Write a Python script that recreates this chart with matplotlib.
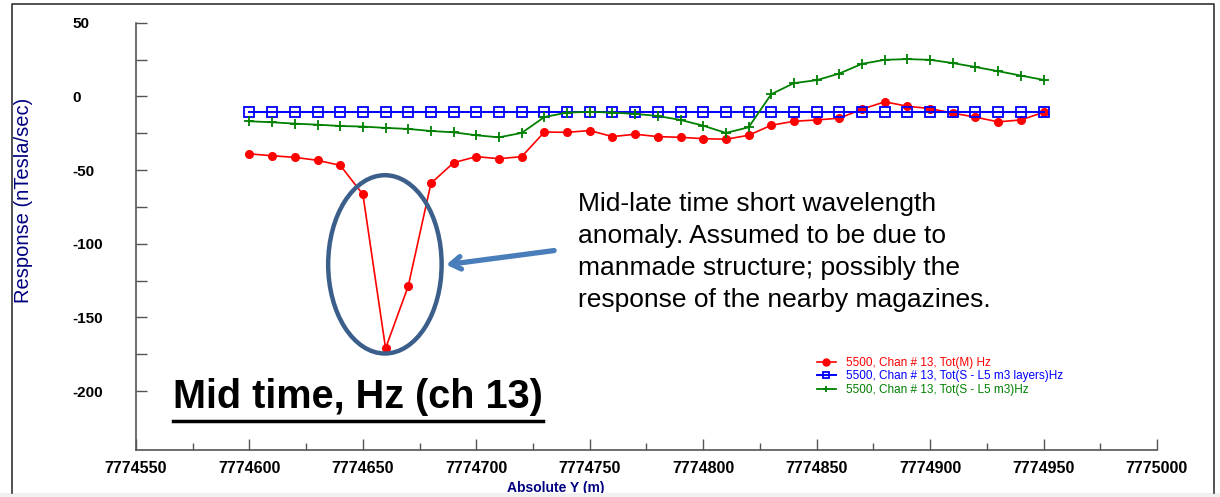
import matplotlib
matplotlib.use("Agg")
import matplotlib.pyplot as plt
from matplotlib.patches import Ellipse, Rectangle
from matplotlib.lines import Line2D
import numpy as np

plt.rcParams['font.family'] = ['Liberation Sans', 'DejaVu Sans']

# ---- data ----
x_pos = [7774600 + 10 * i for i in range(36)]
tot_m = [-39, -40.3, -41.4, -43.4, -46.8, -66.5, -171, -128.7, -59, -45,
         -40.9, -42.3, -40.9, -24.2, -24.4, -23.2, -27.3, -25.7, -27.3, -27.8,
         -28.7, -29.1, -26.4, -19.6, -16.9, -16.0, -14.8, -8.7, -3.7, -6.7,
         -8.3, -11.4, -14.1, -17.3, -16.0, -10.8]
tot_s_layers = [-10.7] * 36
tot_s = [-16.9, -17.6, -18.5, -19.2, -20.1, -20.5, -21.4, -22.1, -23.5, -24.4,
         -26.4, -27.8, -24.8, -14.0, -11.0, -10.5, -11.0, -11.9, -13.3, -16.0,
         -19.9, -24.8, -21.0, 1.5, 9.0, 11.0, 15.5, 22.1, 24.8, 25.3,
         24.8, 22.6, 19.9, 17.1, 14.1, 11.2]
labels = ["5500, Chan # 13, Tot(M) Hz",
          "5500, Chan # 13, Tot(S - L5 m3 layers)Hz",
          "5500, Chan # 13, Tot(S - L5 m3)Hz"]
x_major = list(range(7774550, 7775001, 50))
x_minor = list(range(7774575, 7775000, 50))
y_ticks = list(range(-200, 51, 25))
y_labels = [str(v) if v % 50 == 0 else "" for v in y_ticks]

W, H = 1220, 497
fig = plt.figure(figsize=(W / 100, H / 100), dpi=100)
fig.patch.set_facecolor("white")

ax = fig.add_axes([136 / W, 1 - 450 / H, (1157 - 136) / W, (450 - 22.7) / H])
ax.set_xlim(7774550, 7775000)
ax.set_ylim(-240, 50)

ax.plot(x_pos, tot_m, color="#FF0000", lw=1.2, marker="o", ms=5.5,
        label=labels[0])
ax.plot(x_pos, tot_s_layers, color="#0000FF", lw=1.4, marker="s", ms=6.5,
        mfc="none", mew=1.3, label=labels[1])
ax.plot(x_pos, tot_s, color="#008000", lw=1.3, marker="+", ms=7, mew=1.3,
        label=labels[2])

for s in ["top", "right"]:
    ax.spines[s].set_visible(False)
for s in ["left", "bottom"]:
    ax.spines[s].set_color("#555555")
    ax.spines[s].set_linewidth(1.2)

ax.set_xticks(x_major)
ax.set_xticks(x_minor, minor=True)
ax.set_xticklabels([str(v) for v in x_major], fontsize=11.5, fontweight="bold")
ax.tick_params(axis="x", which="major", direction="in", length=8, width=1,
               color="#555555", pad=8)
ax.tick_params(axis="x", which="minor", direction="in", length=5, width=1,
               color="#555555")
ax.set_yticks(y_ticks)
ax.set_yticklabels(y_labels, fontsize=11, fontweight="bold", ha="left")
ax.tick_params(axis="y", which="major", direction="in", length=8, width=1,
               color="#555555", pad=46)

ax.set_xlabel("Absolute Y (m)", color="#000080", fontweight="bold", fontsize=10)
ax.xaxis.set_label_coords(0.411, -0.072)
ax.set_ylabel("Response (nTesla/sec)", color="#000080", fontsize=14.5)
ax.yaxis.set_label_coords(-0.101, 0.585)

leg = ax.legend(loc="upper left", bbox_to_anchor=((812 - 136) / 1021, 1 - (352 - 22.7) / 427.3),
                frameon=False, fontsize=8.5, handlelength=1.6, handletextpad=0.9,
                labelspacing=0.15, labelcolor="linecolor", borderaxespad=0)
for h in leg.legend_handles:
    h.set_markersize(5)

# annotations
ell = Ellipse((7774659.7, -114), 50, 121, fill=False, edgecolor="#3B5F8A", lw=3.2,
              zorder=5)
ax.add_patch(ell)
ax.annotate("", xy=(7774685.5, -114.5), xytext=(7774735.5, -104.4),
            arrowprops=dict(arrowstyle="->,head_length=0.7,head_width=0.45",
                            color="#4A7EBB", lw=3.8), zorder=6)
ax.text(7774744.6, -65,
        "Mid-late time short wavelength\nanomaly. Assumed to be due to\n"
        "manmade structure; possibly the\nresponse of the nearby magazines.",
        fontsize=19, va="top", ha="left", linespacing=1.42, color="black")

title = fig.text(173 / W, 1 - 397 / H, "Mid time, Hz (ch 13)", fontsize=28.5,
                 fontweight="bold", ha="left", va="center")
fig.canvas.draw()
bb = title.get_window_extent()
fig.add_artist(Line2D([bb.x0 / W, bb.x1 / W], [1 - 421 / H, 1 - 421 / H],
                      transform=fig.transFigure, color="black", lw=2.5))

# outer frame
fig.add_artist(Line2D([12 / W, 12 / W, 1214 / W, 1214 / W],
                      [1 - 493 / H, 1 - 4 / H, 1 - 4 / H, 1 - 493 / H],
                      transform=fig.transFigure, color="#333333", lw=1.2))
fig.add_artist(Rectangle((0, 0), 1, 4 / H, transform=fig.transFigure,
                         color="#F0F0F0", lw=0))

fig.savefig("out.png", dpi=100)
